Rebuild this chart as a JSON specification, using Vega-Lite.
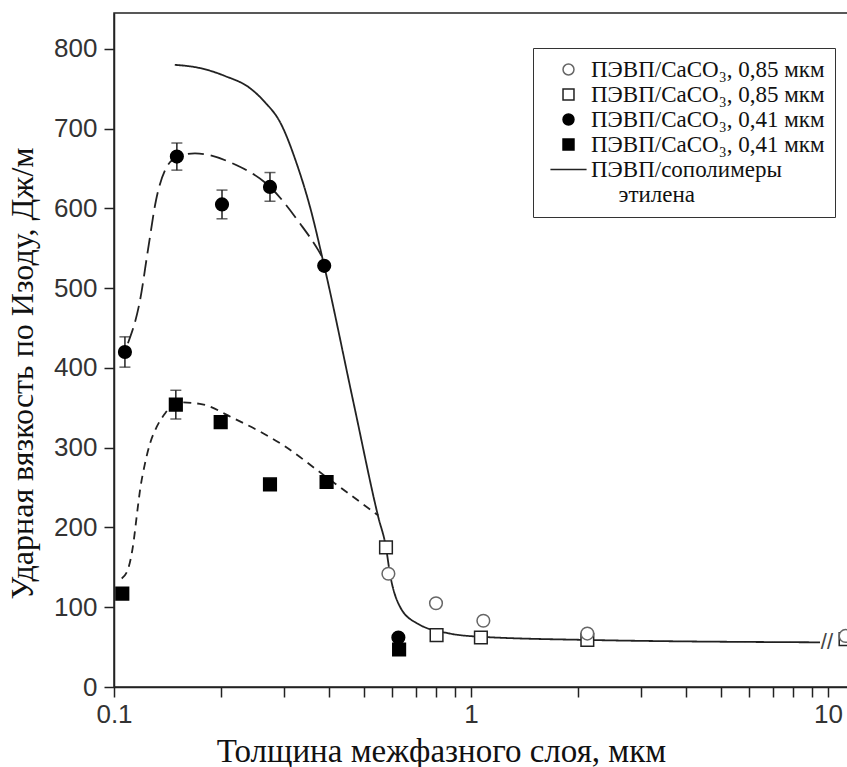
{
  "$schema": "https://vega.github.io/schema/vega-lite/v6.json",
  "width": 760,
  "height": 674,
  "padding": {"left": 6, "top": 13, "right": 0, "bottom": 0},
  "background": "white",
  "config": {
    "view": {"stroke": "#222", "strokeWidth": 1.5},
    "axis": {
      "grid": false,
      "domainColor": "#222",
      "domainWidth": 1.5,
      "tickColor": "#222",
      "tickWidth": 1.5,
      "tickSize": 10,
      "labelFont": "Liberation Sans",
      "labelFontSize": 26,
      "labelColor": "#333",
      "titleFont": "Liberation Serif",
      "titleFontWeight": "normal",
      "titleFontSize": 33,
      "titleColor": "#111"
    }
  },
  "datasets": {
    "points": [
      {"x": 0.1073, "y": 420, "s": "o41"},
      {"x": 0.150, "y": 665, "s": "o41"},
      {"x": 0.2007, "y": 605, "s": "o41"},
      {"x": 0.2735, "y": 627, "s": "o41"},
      {"x": 0.388, "y": 528, "s": "o41"},
      {"x": 0.626, "y": 62, "s": "o41"},
      {"x": 0.1055, "y": 117, "s": "s41"},
      {"x": 0.149, "y": 354, "s": "s41"},
      {"x": 0.199, "y": 332, "s": "s41"},
      {"x": 0.2735, "y": 254, "s": "s41"},
      {"x": 0.394, "y": 257, "s": "s41"},
      {"x": 0.629, "y": 47, "s": "s41"},
      {"x": 0.578, "y": 175, "s": "s85"},
      {"x": 0.801, "y": 65, "s": "s85"},
      {"x": 1.066, "y": 62, "s": "s85"},
      {"x": 2.118, "y": 59, "s": "s85"},
      {"x": 11.2, "y": 60, "s": "s85"},
      {"x": 0.587, "y": 142, "s": "o85"},
      {"x": 0.798, "y": 105, "s": "o85"},
      {"x": 1.083, "y": 83, "s": "o85"},
      {"x": 2.118, "y": 67, "s": "o85"},
      {"x": 11.2, "y": 64, "s": "o85"}
    ],
    "errs": [
      {"x": 0.1073, "lo": 401, "hi": 439},
      {"x": 0.150, "lo": 648, "hi": 682},
      {"x": 0.2007, "lo": 587, "hi": 623},
      {"x": 0.2735, "lo": 609, "hi": 645},
      {"x": 0.149, "lo": 336, "hi": 372}
    ],
    "curves": [
      {"x": 0.148, "y": 780, "c": "fit"},
      {"x": 0.174, "y": 776, "c": "fit"},
      {"x": 0.2046, "y": 766, "c": "fit"},
      {"x": 0.240, "y": 751, "c": "fit"},
      {"x": 0.265, "y": 733, "c": "fit"},
      {"x": 0.292, "y": 708, "c": "fit"},
      {"x": 0.325, "y": 656, "c": "fit"},
      {"x": 0.354, "y": 602, "c": "fit"},
      {"x": 0.388, "y": 528, "c": "fit"},
      {"x": 0.47, "y": 354, "c": "fit"},
      {"x": 0.55, "y": 213, "c": "fit"},
      {"x": 0.578, "y": 175, "c": "fit"},
      {"x": 0.593, "y": 142, "c": "fit"},
      {"x": 0.632, "y": 101, "c": "fit"},
      {"x": 0.705, "y": 80, "c": "fit"},
      {"x": 0.873, "y": 67, "c": "fit"},
      {"x": 1.066, "y": 63, "c": "fit"},
      {"x": 2.118, "y": 59, "c": "fit"},
      {"x": 9.5, "y": 56, "c": "fit"},
      {"x": 0.1094, "y": 431, "c": "o41"},
      {"x": 0.1183, "y": 485, "c": "o41"},
      {"x": 0.1245, "y": 548, "c": "o41"},
      {"x": 0.1311, "y": 610, "c": "o41"},
      {"x": 0.139, "y": 648, "c": "o41"},
      {"x": 0.151, "y": 665, "c": "o41"},
      {"x": 0.1686, "y": 669, "c": "o41"},
      {"x": 0.216, "y": 656, "c": "o41"},
      {"x": 0.2735, "y": 627, "c": "o41"},
      {"x": 0.332, "y": 581, "c": "o41"},
      {"x": 0.373, "y": 548, "c": "o41"},
      {"x": 0.383, "y": 539, "c": "o41"},
      {"x": 0.1051, "y": 136, "c": "s41"},
      {"x": 0.1097, "y": 149, "c": "s41"},
      {"x": 0.1133, "y": 180, "c": "s41"},
      {"x": 0.1157, "y": 213, "c": "s41"},
      {"x": 0.1183, "y": 247, "c": "s41"},
      {"x": 0.1221, "y": 280, "c": "s41"},
      {"x": 0.1261, "y": 305, "c": "s41"},
      {"x": 0.1317, "y": 326, "c": "s41"},
      {"x": 0.139, "y": 343, "c": "s41"},
      {"x": 0.145, "y": 353, "c": "s41"},
      {"x": 0.150, "y": 357, "c": "s41"},
      {"x": 0.174, "y": 355, "c": "s41"},
      {"x": 0.216, "y": 337, "c": "s41"},
      {"x": 0.298, "y": 303, "c": "s41"},
      {"x": 0.394, "y": 263, "c": "s41"},
      {"x": 0.550, "y": 215, "c": "s41"}
    ],
    "brk": [
      {"x": 9.93, "y": 57, "t": "//"}
    ]
  },
  "layer": [
    {
      "data": {"name": "curves"},
      "mark": {"type": "line", "interpolate": "monotone", "strokeWidth": 1.8, "color": "#222"},
      "encoding": {
        "x": {
          "field": "x", "type": "quantitative",
          "scale": {"type": "log", "domain": [0.1, 13.457], "nice": false},
          "axis": {
            "title": "Толщина межфазного слоя, мкм",
            "values": [0.1, 0.2, 0.3, 0.4, 0.5, 0.6, 0.7, 0.8, 0.9, 1, 2, 3, 4, 5, 6, 7, 8, 9, 10],
            "labelExpr": "datum.value == 0.1 ? '0.1' : datum.value == 1 ? '1' : datum.value == 10 ? '10' : ''",
            "labelOverlap": false,
            "labelFlush": false,
            "labelPadding": 4,
            "titleX": 327,
            "titlePadding": 8
          }
        },
        "y": {
          "field": "y", "type": "quantitative",
          "scale": {"domain": [0, 845], "nice": false},
          "axis": {
            "title": "Ударная вязкость по Изоду, Дж/м",
            "titleFont": "Liberation Serif",
            "titleFontSize": 32,
            "values": [0, 100, 200, 300, 400, 500, 600, 700, 800],
            "labelPadding": 7,
            "titlePadding": 14,
            "titleY": 360
          }
        },
        "strokeDash": {
          "field": "c", "type": "nominal",
          "scale": {"domain": ["fit", "o41", "s41"], "range": [[1, 0], [16, 7], [8, 6]]},
          "legend": null
        }
      }
    },
    {
      "data": {"name": "errs"},
      "mark": {"type": "rule", "color": "#222", "strokeWidth": 1.5},
      "encoding": {
        "x": {"field": "x", "type": "quantitative"},
        "y": {"field": "lo", "type": "quantitative"},
        "y2": {"field": "hi"}
      }
    },
    {
      "data": {"name": "errs"},
      "mark": {"type": "tick", "orient": "horizontal", "size": 11, "thickness": 1.5, "color": "#222"},
      "encoding": {
        "x": {"field": "x", "type": "quantitative"},
        "y": {"field": "lo", "type": "quantitative"}
      }
    },
    {
      "data": {"name": "errs"},
      "mark": {"type": "tick", "orient": "horizontal", "size": 11, "thickness": 1.5, "color": "#222"},
      "encoding": {
        "x": {"field": "x", "type": "quantitative"},
        "y": {"field": "hi", "type": "quantitative"}
      }
    },
    {
      "data": {"name": "brk"},
      "mark": {"type": "text", "fontSize": 22, "font": "Liberation Sans", "color": "#444", "baseline": "middle", "align": "center"},
      "encoding": {
        "x": {"field": "x", "type": "quantitative"},
        "y": {"field": "y", "type": "quantitative"},
        "text": {"field": "t"}
      }
    },
    {
      "data": {"name": "points"},
      "mark": {"type": "point", "filled": true, "strokeWidth": 1.5, "opacity": 1, "size": 160},
      "encoding": {
        "x": {"field": "x", "type": "quantitative"},
        "y": {"field": "y", "type": "quantitative"},
        "shape": {
          "field": "s", "type": "nominal",
          "scale": {"domain": ["o85", "s85", "o41", "s41", "line"], "range": ["circle", "square", "circle", "square", "M-3.3,0L3.3,0"]},
          "legend": {
            "title": null,
            "orient": "none",
            "legendX": 419,
            "legendY": 35,
            "padding": 10,
            "strokeColor": "#333",
            "fillColor": "white",
            "symbolSize": 120,
            "symbolOffset": 14,
            "labelOffset": 11,
            "rowPadding": 1,
            "labelFont": "Liberation Serif",
            "labelFontSize": 23,
            "labelColor": "#111",
            "labelLimit": 400,
            "symbolStrokeWidth": 1.5,
            "labelExpr": "datum.value == 'o85' || datum.value == 's85' ? 'ПЭВП/CaCO₃, 0,85 мкм' : datum.value == 'line' ? ['ПЭВП/сополимеры', '\u200b\u2002\u2002\u2009этилена'] : 'ПЭВП/CaCO₃, 0,41 мкм'",
            "encode": {
              "labels": {
                "enter": {
                  "lineHeight": {"value": 20}
                },
                "update": {
                  "lineHeight": {"value": 20}
                }
              }
            }
          }
        },
        "fill": {
          "field": "s", "type": "nominal",
          "scale": {"domain": ["o85", "s85", "o41", "s41", "line"], "range": ["white", "white", "black", "black", "black"]}
        },
        "stroke": {
          "field": "s", "type": "nominal",
          "scale": {"domain": ["o85", "s85", "o41", "s41", "line"], "range": ["#666", "#222", "black", "black", "#222"]}
        }
      }
    }
  ]
}
